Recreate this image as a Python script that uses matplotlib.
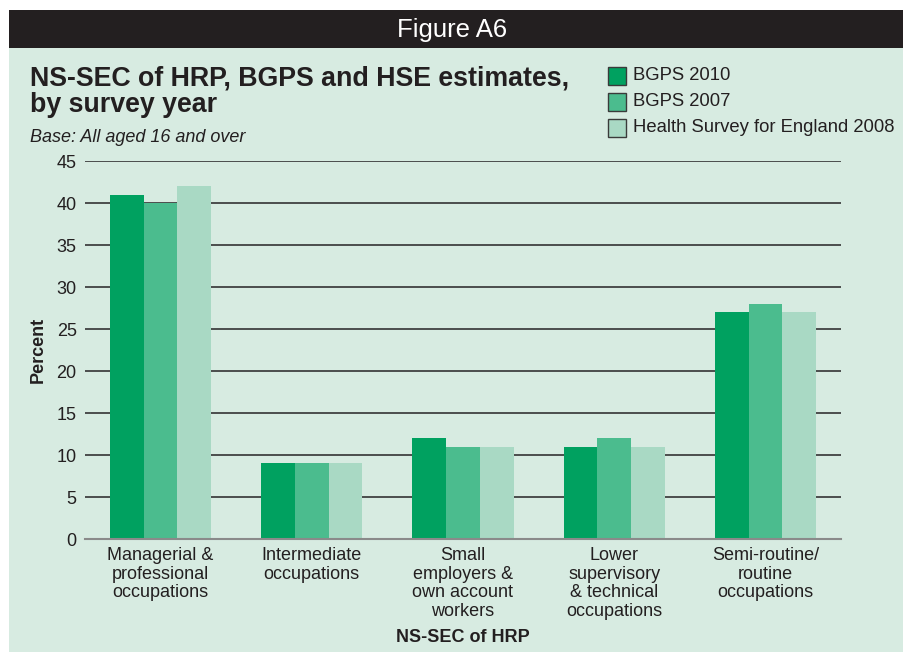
import matplotlib.pyplot as plt
from matplotlib.patches import Rectangle
import numpy as np

categories = ['Managerial &\nprofessional\noccupations', 'Intermediate\noccupations',
              'Small\nemployers &\nown account\nworkers', 'Lower\nsupervisory\n& technical\noccupations',
              'Semi-routine/\nroutine\noccupations']
bgps_2010 = [41, 9, 12, 11, 27]
bgps_2007 = [40, 9, 11, 12, 28]
hse_2008 = [42, 9, 11, 11, 27]
series_names = ['BGPS 2010', 'BGPS 2007', 'Health Survey for England 2008']
colors = ['#00a160', '#4bbc8e', '#a9d9c4']
yticks = [0, 5, 10, 15, 20, 25, 30, 35, 40, 45]

plt.rcParams['font.family'] = ['Liberation Sans', 'DejaVu Sans']

W, H = 904, 657
fig = plt.figure(figsize=(W / 100, H / 100), dpi=100, facecolor='white')

# panel background and header bar
fig.patches.append(Rectangle((9 / W, 1 - 652 / H), (W - 9) / W, (652 - 48) / H,
                             transform=fig.transFigure, facecolor='#d7ebe1', edgecolor='none', zorder=-2))
fig.patches.append(Rectangle((9 / W, 1 - 48 / H), (W - 9) / W, 38 / H,
                             transform=fig.transFigure, facecolor='#231f20', edgecolor='none', zorder=-2))
fig.text(452 / W, 1 - 30 / H, 'Figure A6', color='white', fontsize=18.5, ha='center', va='center')

fig.text(30 / W, 1 - 78 / H, 'NS-SEC of HRP, BGPS and HSE estimates,', fontsize=19.3,
         fontweight='bold', color='#231f20', ha='left', va='center')
fig.text(30 / W, 1 - 105 / H, 'by survey year', fontsize=19.3,
         fontweight='bold', color='#231f20', ha='left', va='center')
fig.text(30 / W, 1 - 137 / H, 'Base: All aged 16 and over', fontsize=13, style='italic',
         color='#231f20', ha='left', va='center')

ax = fig.add_axes([85 / W, 1 - 539 / H, (841 - 85) / W, (539 - 161) / H])
ax.set_facecolor('none')

x = np.arange(len(categories))
w = 0.223
for i, vals in enumerate([bgps_2010, bgps_2007, hse_2008]):
    ax.bar(x + (i - 1) * w, vals, width=w, color=colors[i], zorder=3, label=series_names[i])

ax.set_xlim(-0.5, len(categories) - 0.5)
ax.set_ylim(0, 45)
ax.set_yticks(yticks)
ax.yaxis.grid(True, color='#333333', linewidth=1.2, zorder=1)
ax.set_axisbelow(True)
for s in ['top', 'right', 'left']:
    ax.spines[s].set_visible(False)
ax.spines['bottom'].set_color('#8a8a8a')
ax.spines['bottom'].set_linewidth(1.5)
ax.spines['bottom'].set_zorder(4)
ax.tick_params(axis='y', length=0, pad=6, labelsize=13, labelcolor='#231f20')
ax.tick_params(axis='x', length=0, pad=6, labelsize=13, labelcolor='#231f20')
ax.set_xticks(x)
ax.set_xticklabels(categories, linespacing=1.12)
ax.set_ylabel('Percent', fontsize=13, fontweight='bold', color='#231f20', labelpad=7)
fig.text(463 / W, 1 - 637 / H, 'NS-SEC of HRP', fontsize=13, fontweight='bold',
         color='#231f20', ha='center', va='center')

# legend drawn manually to match the stacked swatches
for i, name in enumerate(series_names):
    yc = 76 + i * 26
    fig.patches.append(Rectangle((608 / W, 1 - (yc + 9) / H), 18 / W, 18 / H,
                                 transform=fig.transFigure, facecolor=colors[i],
                                 edgecolor='#3a3a3a', linewidth=1))
    fig.text(633 / W, 1 - yc / H, name, fontsize=13.3, color='#231f20', ha='left', va='center')

fig.savefig('out.png', dpi=100, facecolor='white')
